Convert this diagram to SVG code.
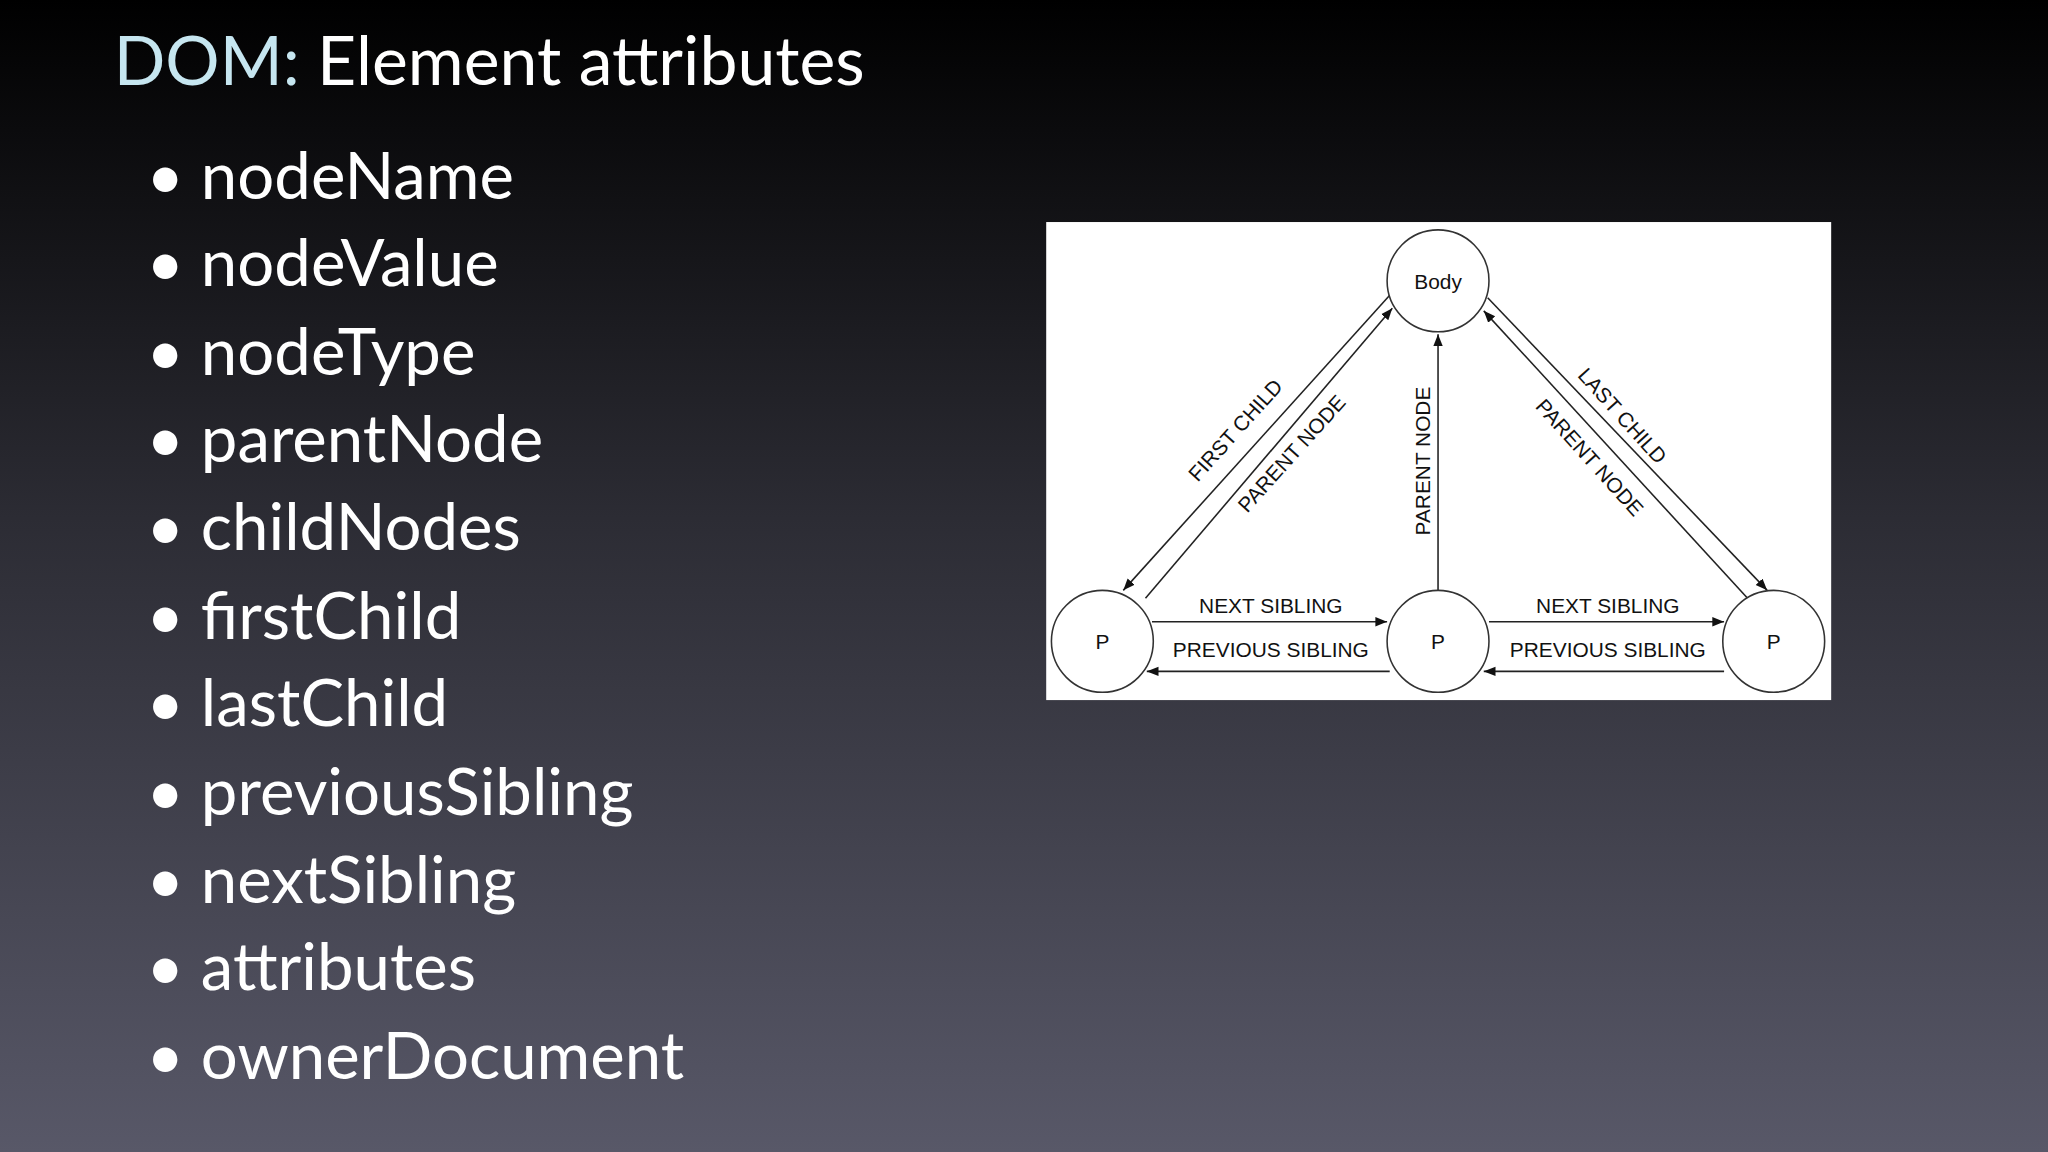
<svg xmlns="http://www.w3.org/2000/svg" width="2048" height="1152" viewBox="0 0 2048 1152">
<defs>
<linearGradient id="bg" x1="0" y1="0" x2="0" y2="1"><stop offset="0" stop-color="#000"/><stop offset="0.45" stop-color="#2c2c34"/><stop offset="1" stop-color="#585868"/></linearGradient>
<marker id="ah" viewBox="0 0 10 10" refX="10" refY="5" markerWidth="9" markerHeight="9" orient="auto" markerUnits="userSpaceOnUse"><path d="M0,1 L10,5 L0,9 Z" fill="#111"/></marker>
<style>
.t{font-family:Lato,"Open Sans",sans-serif;fill:#fff;font-size:52px}
.b{font-family:Lato,"Open Sans",sans-serif;fill:#fff;font-size:50px}
.c{fill:#fff;stroke:#333;stroke-width:1.2}
.l{stroke:#222;stroke-width:1.2;fill:none;marker-end:url(#ah)}
.d{font-family:"Liberation Sans",Arial,sans-serif;font-size:16px;fill:#111;text-anchor:middle}
</style>
</defs>
<rect width="2048" height="1152" fill="url(#bg)"/>
<g transform="scale(1.30612)">
<g id="title"><text class="t" x="87" y="65"><tspan fill="#c6e6f0">DOM:</tspan> Element attributes</text></g>
<g id="bullets" class="b">
<text x="112" y="152">• nodeName</text>
<text x="112" y="219">• nodeValue</text>
<text x="112" y="287">• nodeType</text>
<text x="112" y="354">• parentNode</text>
<text x="112" y="421">• childNodes</text>
<text x="112" y="489">• firstChild</text>
<text x="112" y="556">• lastChild</text>
<text x="112" y="624">• previousSibling</text>
<text x="112" y="691">• nextSibling</text>
<text x="112" y="758">• attributes</text>
<text x="112" y="826">• ownerDocument</text>
</g>
<rect x="801" y="170" width="601" height="366" fill="#fff"/>
<g id="connectors">
<line class="l" x1="1064" y1="226" x2="860" y2="452"/>
<line class="l" x1="877" y1="458" x2="1066" y2="236"/>
<line class="l" x1="1139" y1="228" x2="1353" y2="452"/>
<line class="l" x1="1338" y1="458" x2="1136" y2="238"/>
<line class="l" x1="1101" y1="452" x2="1101" y2="256"/>
<line class="l" x1="882" y1="476" x2="1062" y2="476"/>
<line class="l" x1="1140" y1="476" x2="1320" y2="476"/>
<line class="l" x1="1064" y1="514" x2="878" y2="514"/>
<line class="l" x1="1320" y1="514" x2="1136" y2="514"/>
<text class="d" x="973" y="469">NEXT SIBLING</text>
<text class="d" x="973" y="503">PREVIOUS SIBLING</text>
<text class="d" x="1231" y="469">NEXT SIBLING</text>
<text class="d" x="1231" y="503">PREVIOUS SIBLING</text>
<text class="d" transform="translate(950,333) rotate(-48)">FIRST CHILD</text>
<text class="d" transform="translate(993,351) rotate(-48)">PARENT NODE</text>
<text class="d" transform="translate(1095,353) rotate(-90)">PARENT NODE</text>
<text class="d" transform="translate(1238,322) rotate(48)">LAST CHILD</text>
<text class="d" transform="translate(1213,354) rotate(48)">PARENT NODE</text>
</g>
<g id="body"><circle class="c" cx="1101" cy="215" r="39"/><text class="d" x="1101" y="221">Body</text></g>
<g id="p1"><circle class="c" cx="844" cy="491" r="39"/><text class="d" x="844" y="497">P</text></g>
<g id="p2"><circle class="c" cx="1101" cy="491" r="39"/><text class="d" x="1101" y="497">P</text></g>
<g id="p3"><circle class="c" cx="1358" cy="491" r="39"/><text class="d" x="1358" y="497">P</text></g>
</g>
</svg>
